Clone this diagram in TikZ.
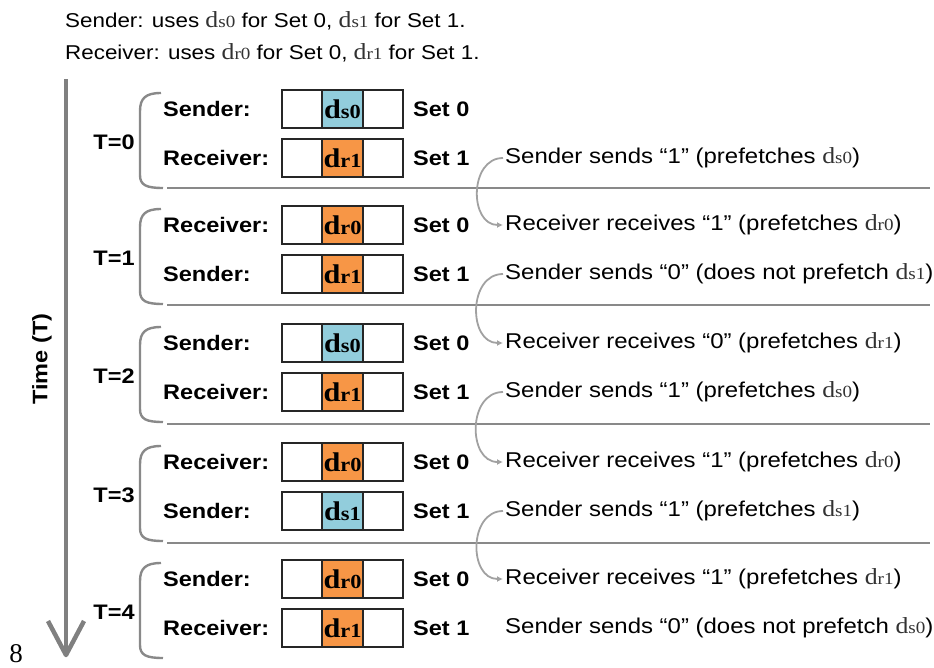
\documentclass[tikz,border=0pt]{standalone}
\usepackage{fontspec}
\usepackage{graphicx}
\setmainfont[FakeStretch=1.12]{Liberation Sans}
\newfontfamily\tms[FakeStretch=1.12]{Liberation Serif}
\newfontfamily\tmsplain{Liberation Serif}
\usetikzlibrary{arrows.meta}
\definecolor{cblue}{RGB}{146,205,220}
\definecolor{corange}{RGB}{247,150,70}
\definecolor{axgray}{RGB}{128,128,128}
\definecolor{lgray}{RGB}{137,137,137}
\definecolor{dtxt}{RGB}{50,50,50}
\newcommand\dd[1]{{\tms d\scalebox{0.74}{#1}}}
\newcommand\ddt[1]{{\color{dtxt}\fontsize{23}{25}\selectfont\dd{#1}}}
\begin{document}
\begin{tikzpicture}[x=1pt,y=-1pt,
  cell/.style={draw=black!85, line width=2.4pt, minimum width=40.5pt, minimum height=37.5pt, inner sep=0pt},
  lab/.style={font=\bfseries\fontsize{21}{25}\selectfont, anchor=west, inner sep=0pt},
  txt/.style={font=\fontsize{21.4}{25}\selectfont, anchor=west, inner sep=2pt},
  htxt/.style={font=\fontsize{20}{24}\selectfont, anchor=base west, inner sep=0pt},
  boxtxt/.style={font=\bfseries\fontsize{27}{28}\selectfont},
  brace/.style={draw=lgray, line width=2.4pt},
  sepline/.style={draw=lgray, line width=2.8pt},
  tline/.style={draw=axgray, line width=4.5pt},
  flow/.style={draw=lgray!80, line width=1.8pt, -{Latex[length=6pt,width=6pt]}}]
\useasboundingbox (0,0) rectangle (934,667);

% header
\node[htxt] (h1) at (65,27) {Sender: uses \ddt{s0} for Set 0, \ddt{s1} for Set 1.};
\node[htxt] (h2) at (65,59) {Receiver: uses \ddt{r0} for Set 0, \ddt{r1} for Set 1.};

% time axis
\coordinate (ttop) at (66,79);
\coordinate (tbot) at (66,655);
\coordinate (tl) at (48,621);
\coordinate (tr) at (84,621);
\draw[tline] (ttop) -- (tbot);
\draw[tline, line join=round] (tl) -- (tbot) -- (tr);
\node[lab, anchor=center, rotate=90] (time) at (42,359) {Time (T)};
\node[font=\tmsplain\fontsize{27}{29}\selectfont, inner sep=0pt, anchor=base] (eight) at (16,662) {8};

% blocks
\foreach \i/\y/\la/\da/\ca/\lb/\db/\cb in {
  0/109/Sender/s0/cblue/Receiver/r1/corange,
  1/225/Receiver/r0/corange/Sender/r1/corange,
  2/343/Sender/s0/cblue/Receiver/r1/corange,
  3/462/Receiver/r0/corange/Sender/s1/cblue,
  4/579/Sender/r0/corange/Receiver/r1/corange}{
  \node[lab] (la\i) at (163,\y) {\la:};
  \node[lab] (lb\i) at (163,\y+49) {\lb:};
  \node[cell] (a\i l) at (302,\y) {};
  \node[cell, fill=\ca, boxtxt] (a\i m) at (342.5,\y) {\dd{\da}};
  \node[cell] (a\i r) at (383,\y) {};
  \node[cell] (b\i l) at (302,\y+49) {};
  \node[cell, fill=\cb, boxtxt] (b\i m) at (342.5,\y+49) {\dd{\db}};
  \node[cell] (b\i r) at (383,\y+49) {};
  \node[lab] (sa\i) at (413,\y) {Set 0};
  \node[lab] (sb\i) at (413,\y+49) {Set 1};
  \node[lab, anchor=center] (t\i) at (114,\y+33) {T=\i};
  \draw[brace] (161,\y-16) .. controls (146,\y-16) and (140,\y-11) .. (140,\y+2) -- (140,\y+66) .. controls (140,\y+76) and (146,\y+79) .. (163,\y+79);
}
\foreach \y in {188,305,424,543}{
  \draw[sepline] (167,\y) -- (930,\y);
}

% right texts
\node[txt] (snd0) at (503,158) {Sender sends “1” (prefetches \ddt{s0})};
\node[txt] (rcv1) at (503,225) {Receiver receives “1” (prefetches \ddt{r0})};
\node[txt] (snd1) at (503,274) {Sender sends “0” (does not prefetch \ddt{s1})};
\node[txt] (rcv2) at (503,343) {Receiver receives “0” (prefetches \ddt{r1})};
\node[txt] (snd2) at (503,392) {Sender sends “1” (prefetches \ddt{s0})};
\node[txt] (rcv3) at (503,462) {Receiver receives “1” (prefetches \ddt{r0})};
\node[txt] (snd3) at (503,511) {Sender sends “1” (prefetches \ddt{s1})};
\node[txt] (rcv4) at (503,579) {Receiver receives “1” (prefetches \ddt{r1})};
\node[txt] (snd4) at (503,628) {Sender sends “0” (does not prefetch \ddt{s0})};

\foreach \a/\b in {0/1,1/2,2/3,3/4}{
  \draw[flow] (snd\a.west) to[out=180, in=180, looseness=1.3] (rcv\b.west);
}
\end{tikzpicture}
\end{document}
